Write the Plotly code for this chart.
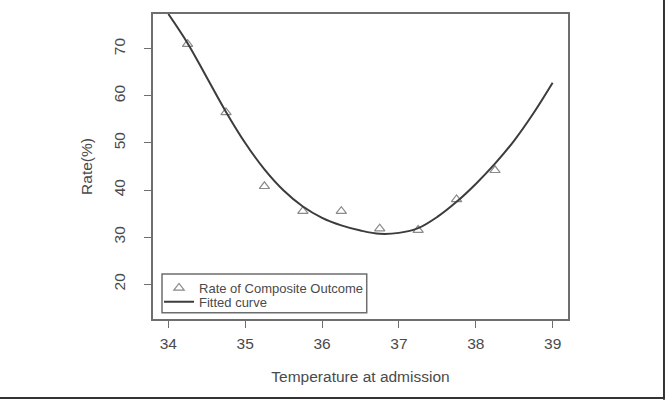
import plotly.graph_objects as go

# Observed rates (points)
temp_points = [34.25, 34.75, 35.25, 35.75, 36.25, 36.75, 37.25, 37.75, 38.25]
rate_points = [71.0, 56.5, 40.8, 35.5, 35.5, 31.8, 31.5, 38.0, 44.2]

# Fitted curve, values
temp_curve = [34.0, 34.25, 34.5, 34.75, 35.0, 35.25, 35.5, 35.75, 36.0, 36.25,
              36.5, 36.75, 37.0, 37.25, 37.5, 37.75, 38.0, 38.25, 38.5, 38.75, 39.0]
rate_curve = [77.4, 71.2, 63.9, 56.6, 50.0, 44.4, 39.9, 36.5, 34.1, 32.5,
              31.4, 30.7, 30.9, 31.9, 34.3, 37.5, 41.3, 45.6, 50.5, 56.3, 62.8]

x_ticks = [34, 35, 36, 37, 38, 39]
y_ticks = [20, 30, 40, 50, 60, 70]

FONT = "Liberation Sans, Arial, sans-serif"
TXT = "#4a4a4a"
AX = "#6e6e6e"

fig = go.Figure()
fig.add_trace(go.Scatter(
    x=temp_points, y=rate_points, mode="markers",
    name="Rate of Composite Outcome", legend="legend",
    marker=dict(symbol="triangle-up-open", size=9, color="#8a8a8a",
                line=dict(width=1.2, color="#8a8a8a")),
))
fig.add_trace(go.Scatter(
    x=temp_curve, y=rate_curve, mode="lines", name="Fitted curve", legend="legend2",
    line=dict(color="#3c3c3c", width=2, shape="spline"),
))

axis_common = dict(
    showgrid=False, zeroline=False, showline=True, linecolor=AX, linewidth=1.5,
    mirror=True, ticks="outside", ticklen=7, tickwidth=1.2, tickcolor=AX,
    tickfont=dict(family=FONT, size=15.5, color=TXT),
)

legend_common = dict(xanchor="left", yanchor="middle", borderwidth=0,
                     bgcolor="rgba(0,0,0,0)",
                     font=dict(family=FONT, size=13, color=TXT))

fig.update_layout(
    width=667, height=400,
    margin=dict(l=153, r=99, t=14, b=81),
    paper_bgcolor="white", plot_bgcolor="white",
    font=dict(family=FONT, color=TXT),
    xaxis=dict(range=[33.8, 39.2], tickvals=x_ticks, ticktext=[str(v) for v in x_ticks],
               title=dict(text="Temperature at admission", standoff=20,
                          font=dict(family=FONT, size=15.5, color=TXT)),
               ticklabelstandoff=3,
               **axis_common),
    yaxis=dict(range=[12.6, 77.4], tickvals=y_ticks, ticktext=[str(v) for v in y_ticks],
               tickangle=-90,
               title=dict(text="Rate(%)", standoff=15,
                          font=dict(family=FONT, size=15.5, color=TXT)),
               ticklabelstandoff=13,
               **axis_common),
    legend=dict(x=0.0145, y=0.1016, **legend_common),
    legend2=dict(x=0.0145, y=0.0567, **legend_common),
    showlegend=True,
    shapes=[
        # legend frame
        dict(type="rect", xref="paper", yref="paper", x0=0.0217, x1=0.515, y0=0.0207, y1=0.1475,
             line=dict(color=AX, width=1.5), layer="below"),
        # outer image frame (right and bottom edges)
        dict(type="line", xref="paper", yref="paper", x0=1.2313, x1=1.2313, y0=-0.265, y1=1.05,
             line=dict(color="#333333", width=2)),
        dict(type="line", xref="paper", yref="paper", x0=-0.4, x1=1.2313, y0=-0.259, y1=-0.259,
             line=dict(color="#333333", width=2)),
    ],
)

fig.write_html("out.html", config={"displayModeBar": False},
               post_script="document.body.style.margin='0px';")
